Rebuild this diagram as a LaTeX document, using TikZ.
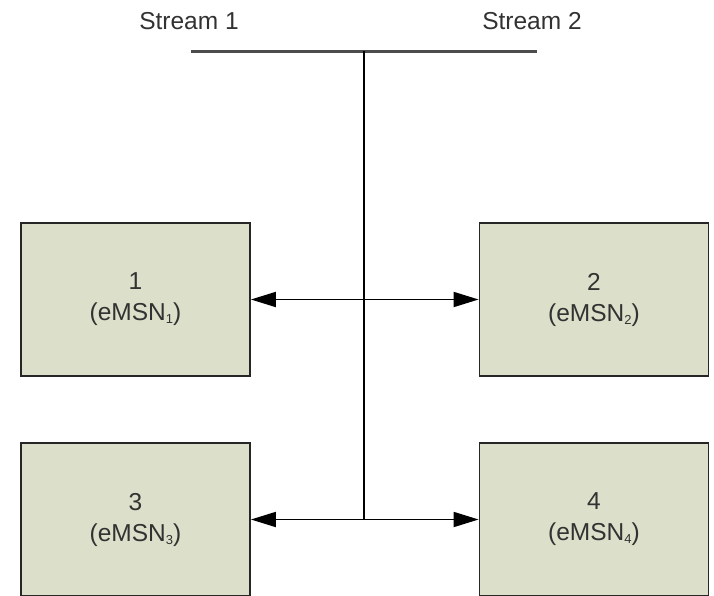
\documentclass[tikz,border=0pt]{standalone}
\usepackage{fontspec}
\setmainfont{Liberation Sans}
\usetikzlibrary{arrows.meta}
\definecolor{boxfill}{RGB}{220,223,201}
\definecolor{txt}{RGB}{50,50,50}
\newcommand{\mysub}[1]{\raisebox{-3pt}{\fontsize{13}{13}\selectfont #1}}
\begin{document}
\begin{tikzpicture}[x=1pt,y=-1pt,
  msnbox/.style={draw=black!85, line width=1.8pt, fill=boxfill, minimum width=229pt, minimum height=153pt, inner sep=0pt, align=center, text=txt, font=\fontsize{24.5}{31}\selectfont},
  lbl/.style={text=txt, font=\fontsize{24.5}{31}\selectfont, inner sep=0pt, anchor=base},
  conn/.style={line width=1.8pt, black},
  arr/.style={conn, -{Triangle[length=25pt,width=15pt]}}]
\useasboundingbox (0,0) rectangle (714,596);
\node[lbl] (s1) at (189,30) {Stream 1};
\node[lbl] (s2) at (532,30) {Stream 2};
\coordinate (tl) at (191,51.5);
\coordinate (tr) at (537,51.5);
\coordinate (top) at (364,51.5);
\coordinate (j1) at (364,299.5);
\coordinate (j2) at (364,519.5);
\node[msnbox] (b1) at (135.5,299.5) {1\\(eMSN\mysub{1})};
\node[msnbox] (b2) at (594,299.5) {2\\(eMSN\mysub{2})};
\node[msnbox] (b3) at (135.5,519.5) {3\\(eMSN\mysub{3})};
\node[msnbox] (b4) at (594,519.5) {4\\(eMSN\mysub{4})};
\draw[line width=2.4pt, black!70] (tl) -- (tr);
\draw[conn] (top) -- (j2);
\draw[arr] (j1) -- (b1.east);
\draw[arr] (j1) -- (b2.west);
\draw[arr] (j2) -- (b3.east);
\draw[arr] (j2) -- (b4.west);
\end{tikzpicture}
\end{document}
